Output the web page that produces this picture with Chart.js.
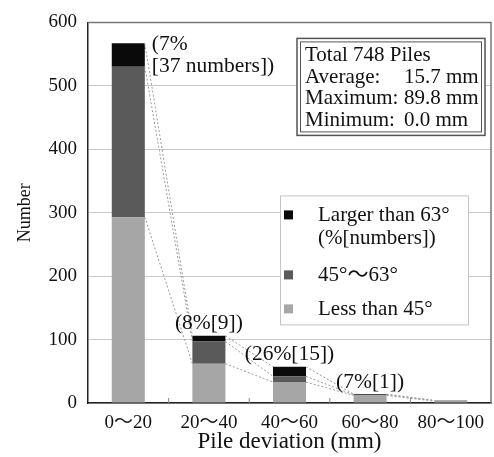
<!DOCTYPE html>
<html>
<head>
<meta charset="utf-8">
<script src="https://cdn.jsdelivr.net/npm/chart.js@4.4.0/dist/chart.umd.min.js"></script>
<style>
  html, body { margin: 0; padding: 0; background: #fff; }
  #wrap { width: 494px; height: 457px; }
</style>
</head>
<body>
<div id="wrap"><canvas id="pileChart" width="494" height="457"></canvas></div>
<script>
// Pile deviation histogram, split by inclination angle

const categories = ["0～20", "20～40", "40～60", "60～80", "80～100"];
const lessThan45 = [293, 62, 33, 12, 3];
const from45to63 = [237, 35, 9, 1, 1];
const largerThan63 = [37, 9, 15, 1, 0];
const yTicks = [0, 100, 200, 300, 400, 500, 600];

const barNotes = [["(7%", "[37 numbers])"], ["(8%[9])"], ["(26%[15])"], ["(7%[1])"], []];
const legendLabels = [["Larger than 63°", "(%[numbers])"], ["45°～63°"], ["Less than 45°"]];
const summaryRows = [["Total 748 Piles", ""], ["Average:", "15.7 mm"], ["Maximum:", "89.8 mm"], ["Minimum:", "0.0 mm"]];

const SERIF = "'Liberation Serif', 'Noto Sans CJK JP', serif";
const colors = { light: "#a6a6a6", dark: "#5a5a5a", black: "#0a0a0a" };

// Extra drawing: frame, dotted links, bar notes, legend and summary box
const overlayPlugin = {
  id: "overlay",
  afterDatasetsDraw(chart) {
    const ctx = chart.ctx;
    const metas = [0, 1, 2].map((d) => chart.getDatasetMeta(d));
    const n = categories.length;

    // dotted links between neighbouring bars
    ctx.save();
    ctx.strokeStyle = "#9a9a9a";
    ctx.lineWidth = 1;
    ctx.setLineDash([2, 2]);
    for (let i = 0; i < n - 1; i++) {
      metas.forEach((meta) => {
        const a = meta.data[i];
        const b = meta.data[i + 1];
        ctx.beginPath();
        ctx.moveTo(a.x + a.width / 2, a.y);
        ctx.lineTo(b.x - b.width / 2, b.y);
        ctx.stroke();
      });
    }
    ctx.restore();

    // notes above bars
    ctx.save();
    ctx.fillStyle = "#111";
    ctx.font = "21.5px " + SERIF;
    ctx.textBaseline = "middle";
    barNotes.forEach((lines, i) => {
      if (!lines.length) return;
      const top = metas[2].data[i];
      if (lines.length > 1) {
        ctx.textAlign = "left";
        lines.forEach((t, k) => ctx.fillText(t, top.x + top.width / 2 + 7, top.y + 1 + k * 22));
      } else {
        ctx.textAlign = "center";
        ctx.fillText(lines[0], top.x, top.y - 12);
      }
    });
    ctx.restore();
  },
  afterDraw(chart) {
    const ctx = chart.ctx;
    const area = chart.chartArea;
    const xScale = chart.scales.x;

    ctx.save();
    // top and right frame
    ctx.strokeStyle = "#777";
    ctx.lineWidth = 1.5;
    ctx.beginPath();
    ctx.moveTo(area.left, area.top);
    ctx.lineTo(area.right, area.top);
    ctx.lineTo(area.right, area.bottom);
    ctx.stroke();

    // small inner ticks between categories
    ctx.strokeStyle = "#888";
    ctx.lineWidth = 1;
    for (let i = 0; i < categories.length - 1; i++) {
      const x = (xScale.getPixelForValue(i) + xScale.getPixelForValue(i + 1)) / 2;
      ctx.beginPath();
      ctx.moveTo(x, area.bottom);
      ctx.lineTo(x, area.bottom - 5);
      ctx.stroke();
    }

    // legend box
    const lx = area.right - 211, ly = area.top + 173;
    ctx.fillStyle = "#fff";
    ctx.fillRect(lx, ly, 188, 129);
    ctx.strokeStyle = "#c4c4c4";
    ctx.strokeRect(lx + 0.5, ly + 0.5, 188, 129);
    const swatch = [colors.black, colors.dark, colors.light];
    const rowY = [20, 80, 114];
    ctx.font = "21px " + SERIF;
    ctx.textAlign = "left";
    ctx.textBaseline = "middle";
    legendLabels.forEach((lines, k) => {
      ctx.fillStyle = swatch[k];
      ctx.fillRect(lx + 4, ly + rowY[k] - 5, 9, 9);
      ctx.fillStyle = "#111";
      lines.forEach((t, j) => ctx.fillText(t, lx + 38, ly + rowY[k] + j * 23));
    });

    // summary box with double border
    const bx = area.right - 194, by = area.top + 16, bw = 188, bh = 97;
    ctx.fillStyle = "#fff";
    ctx.fillRect(bx, by, bw, bh);
    ctx.strokeStyle = "#555";
    ctx.lineWidth = 1.5;
    ctx.strokeRect(bx, by, bw, bh);
    ctx.lineWidth = 1;
    ctx.strokeRect(bx + 3.5, by + 3.5, bw - 7, bh - 7);
    ctx.fillStyle = "#111";
    ctx.font = "21px " + SERIF;
    ctx.textBaseline = "alphabetic";
    summaryRows.forEach((row, k) => {
      const y = by + 23 + k * 21.5;
      ctx.fillText(row[0], bx + 8, y);
      if (row[1]) ctx.fillText(row[1], bx + 107, y);
    });
    ctx.restore();
  },
};

const ctx = document.getElementById("pileChart");

new Chart(ctx, {
  type: "bar",
  data: {
    labels: categories,
    datasets: [
      { label: "Less than 45°", data: lessThan45, backgroundColor: colors.light },
      { label: "45°～63°", data: from45to63, backgroundColor: colors.dark },
      { label: "Larger than 63°", data: largerThan63, backgroundColor: colors.black },
    ],
  },
  options: {
    responsive: false,
    animation: false,
    devicePixelRatio: 1,
    datasets: {
      bar: { barPercentage: 0.41, categoryPercentage: 1, borderWidth: 0 },
    },
    layout: { padding: { top: 20, right: 3, left: 0, bottom: 0 } },
    plugins: {
      legend: { display: false },
      tooltip: { enabled: false },
    },
    scales: {
      x: {
        stacked: true,
        grid: { display: false, drawTicks: false },
        border: { color: "#222", width: 1.5 },
        ticks: { color: "#111", padding: 9, font: { family: SERIF, size: 19 } },
        title: {
          display: true,
          text: "Pile deviation (mm)",
          color: "#111",
          padding: { top: 0, bottom: 1 },
          font: { family: SERIF, size: 23 },
        },
        afterFit: (scale) => { scale.height = 54; },
      },
      y: {
        stacked: true,
        min: 0,
        max: 600,
        afterBuildTicks: (scale) => { scale.ticks = yTicks.map((v) => ({ value: v })); },
        grid: { color: "#c8c8c8", drawTicks: false },
        border: { color: "#222", width: 1.5 },
        ticks: { color: "#111", padding: 11, font: { family: SERIF, size: 19 } },
        title: {
          display: true,
          text: "Number",
          color: "#111",
          padding: { top: 14, bottom: 0 },
          font: { family: SERIF, size: 18 },
        },
        afterFit: (scale) => { scale.width = 88; },
      },
    },
  },
  plugins: [overlayPlugin],
});
</script>
</body>
</html>
